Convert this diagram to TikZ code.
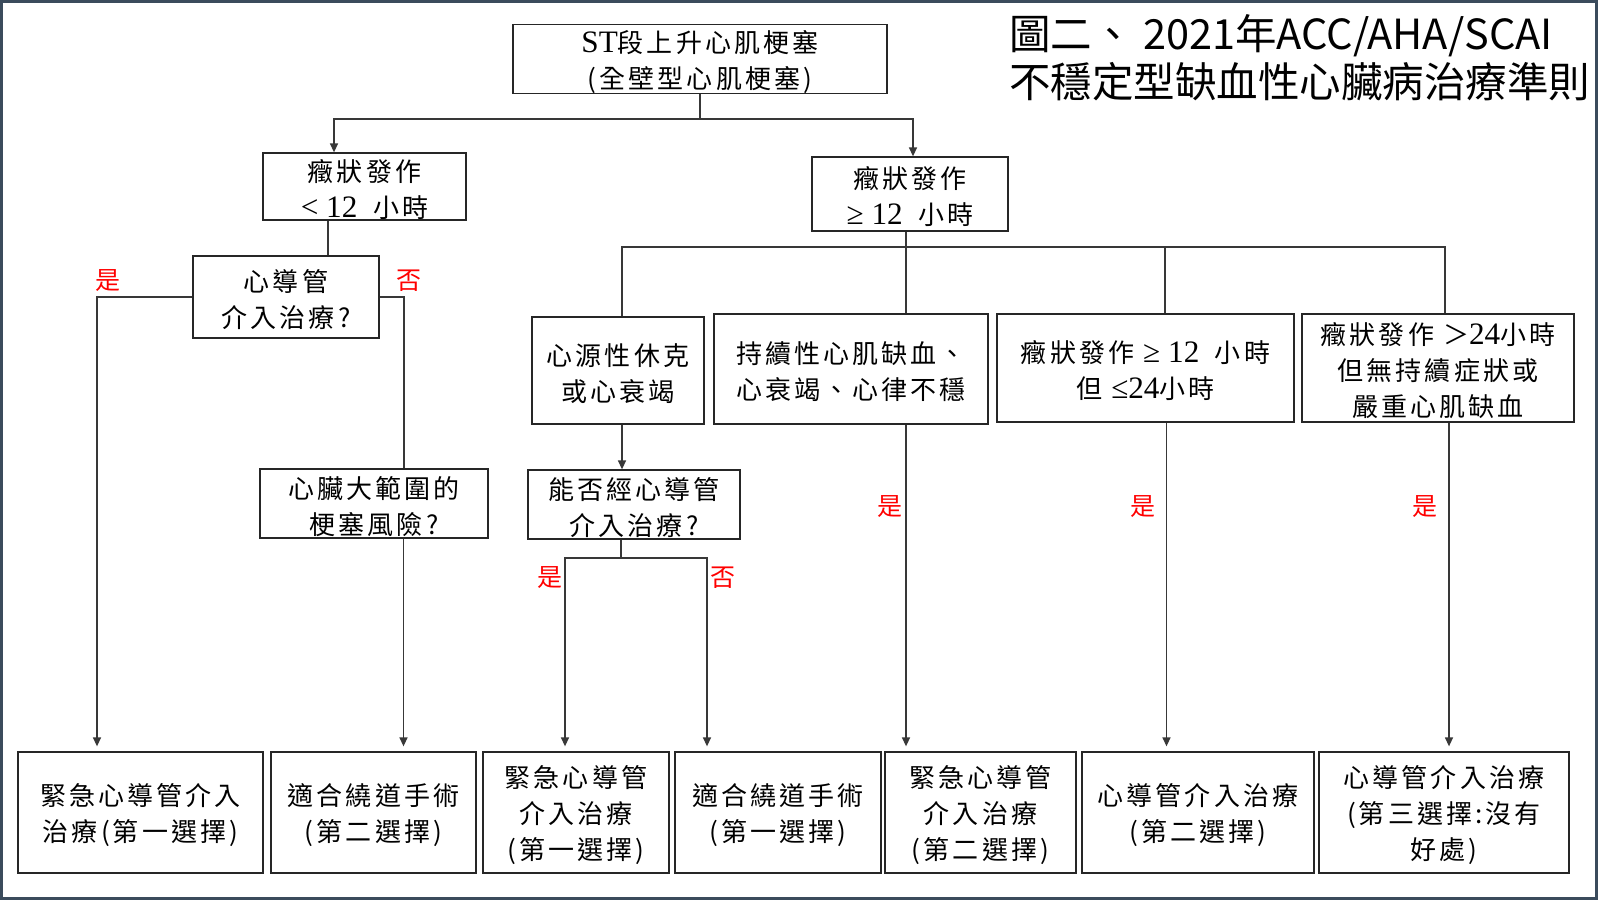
\documentclass[tikz,border=0pt]{standalone}
\usepackage{fontspec}
\setmainfont{Noto Sans CJK TC}[LetterSpace=12]
\newfontfamily\tfont{Noto Sans CJK TC}
\newfontfamily\lat{Liberation Serif}[Scale=1.2]
\usetikzlibrary{arrows.meta}
\definecolor{framec}{HTML}{3B4B5C}
\definecolor{ln}{HTML}{262626}
\newcommand\topgap{\rule{0pt}{28pt}}
\tikzset{
  box/.style={draw=ln, line width=1.3pt, inner sep=0pt, align=center,
    font=\fontsize{26}{36}\selectfont},
  conn/.style={draw=black!78, line width=1.4pt},
  arr/.style={conn, -{Triangle[length=9pt,width=8pt]}},
  barr/.style={arr, shorten >=5pt},
  lab/.style={text=red, inner sep=0pt, font=\tfont\fontsize{25}{25}\selectfont},
}
\begin{document}
\begin{tikzpicture}[x=1pt,y=-1pt]
\fill[white] (0,0) rectangle (1600,900);
\useasboundingbox (0,0) rectangle (1600,900);

% title
\node[anchor=west, align=left, inner sep=0pt, font=\tfont\fontsize{41.5}{48}\selectfont] (title) at (1009,58)
  {圖二、 2021年ACC/AHA/SCAI\\不穩定型缺血性心臟病治療準則};

% boxes
\node[box, minimum width=374pt, minimum height=66pt] (top) at (700,59) {\topgap{\lat ST}段上升心肌梗塞\\(全壁型心肌梗塞)};
\node[box, minimum width=203pt, minimum height=67pt] (b12lt) at (364.5,186.5) {\topgap 癥狀發作\\{\lat <\ 12\ \ }小時};
\node[box, minimum width=196pt, minimum height=74pt] (b12ge) at (910,194) {\topgap 癥狀發作\\{\lat ≥\ 12\ \ }小時};
\node[box, minimum width=186pt, minimum height=82pt] (pci1) at (286,297) {\topgap 心導管\\介入治療?};
\node[box, minimum width=228pt, minimum height=69pt] (risk) at (374,503.5) {\topgap 心臟大範圍的\\梗塞風險?};
\node[box, minimum width=172pt, minimum height=107pt] (shock) at (618,370.5) {\topgap 心源性休克\\或心衰竭};
\node[box, minimum width=274pt, minimum height=110pt] (ischemia) at (851,369) {\topgap 持續性心肌缺血、\\心衰竭、心律不穩};
\node[box, minimum width=297pt, minimum height=108pt] (mid) at (1145.5,368) {\topgap 癥狀發作 {\lat ≥\ 12\ \ }小時\\但 {\lat ≤24}小時};
\node[box, minimum width=272pt, minimum height=108pt] (late) at (1438,368) {\topgap 癥狀發作 ＞{\lat 24}小時\\但無持續症狀或\\嚴重心肌缺血};
\node[box, minimum width=212pt, minimum height=69pt] (pci2) at (634,504.5) {\topgap 能否經心導管\\介入治療?};

\node[box, minimum width=245pt, minimum height=121pt] (B1) at (140.5,812.5) {\topgap 緊急心導管介入\\治療(第一選擇)};
\node[box, minimum width=205pt, minimum height=121pt] (B2) at (373.5,812.5) {\topgap 適合繞道手術\\(第二選擇)};
\node[box, minimum width=186pt, minimum height=121pt] (B3) at (576,812.5) {\topgap 緊急心導管\\介入治療\\(第一選擇)};
\node[box, minimum width=206pt, minimum height=121pt] (B4) at (778,812.5) {\topgap 適合繞道手術\\(第一選擇)};
\node[box, minimum width=191pt, minimum height=121pt] (B5) at (980.5,812.5) {\topgap 緊急心導管\\介入治療\\(第二選擇)};
\node[box, minimum width=232pt, minimum height=121pt] (B6) at (1198,812.5) {\topgap 心導管介入治療\\(第二選擇)};
\node[box, minimum width=250pt, minimum height=121pt] (B7) at (1444,812.5) {\topgap 心導管介入治療\\(第三選擇:沒有\\好處)};

% connectors
\coordinate (j1) at (700,119);
\draw[conn] (top.south) -- (j1);
\draw[arr] (j1) -| ([xshift=-30.5pt]b12lt.north);
\draw[arr] (j1) -| ([xshift=3pt]b12ge.north);

\draw[conn] ([xshift=-36.5pt]b12lt.south) -- ([xshift=-36.5pt]b12lt.south |- pci1.north);
\draw[barr] (pci1.west) -| ([xshift=-43.5pt]B1.north);
\draw[conn] (pci1.east) -| ([xshift=30pt]risk.north);
\draw[barr] ([xshift=29.5pt]risk.south) -- ([xshift=29.5pt]risk.south |- B2.north);

\coordinate (j2) at (906,247);
\draw[conn] ([xshift=-4pt]b12ge.south) -- (j2);
\draw[conn] ([xshift=4pt]shock.north) |- (j2) -| ([xshift=7pt]late.north);
\draw[conn] (j2) -- (j2 |- ischemia.north);
\draw[conn] ([xshift=19.5pt]mid.north) -- ([xshift=19.5pt]mid.north |- j2);

\draw[arr] ([xshift=4pt]shock.south) -- ([xshift=4pt]shock.south |- pci2.north);
\coordinate (j3) at (621,558);
\draw[conn] ([xshift=-13pt]pci2.south) -- (j3);
\draw[barr] (j3) -| ([xshift=-11pt]B3.north);
\draw[barr] (j3) -| ([xshift=-71pt]B4.north);

\draw[barr] ([xshift=55pt]ischemia.south) -- ([xshift=55pt]ischemia.south |- B5.north);
\draw[barr] ([xshift=21pt]mid.south) -- ([xshift=21pt]mid.south |- B6.north);
\draw[barr] ([xshift=11pt]late.south) -- ([xshift=11pt]late.south |- B7.north);

% labels
\node[lab] (y1) at (108,281) {是};
\node[lab] (n1) at (409,281) {否};
\node[lab] (y2) at (550,578) {是};
\node[lab] (n2) at (723,578) {否};
\node[lab] (y3) at (890,507) {是};
\node[lab] (y4) at (1143,507) {是};
\node[lab] (y5) at (1425,507) {是};

% frame
\draw[framec, line width=3pt] (1.5,1.5) rectangle (1596.5,898.5);
\end{tikzpicture}
\end{document}
